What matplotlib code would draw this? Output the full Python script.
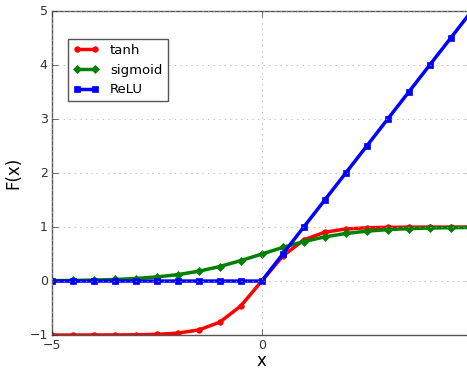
import matplotlib.pyplot as plt

x = [-5, -4.5, -4, -3.5, -3, -2.5, -2, -1.5, -1, -0.5, 0,
     0.5, 1, 1.5, 2, 2.5, 3, 3.5, 4, 4.5, 5]
tanh_y = [-1.0, -1.0, -0.999, -0.998, -0.995, -0.987, -0.964, -0.905, -0.762, -0.462, 0.0,
          0.462, 0.762, 0.905, 0.964, 0.987, 0.995, 0.998, 0.999, 1.0, 1.0]
sigmoid_y = [0.007, 0.011, 0.018, 0.029, 0.047, 0.076, 0.119, 0.182, 0.269, 0.378, 0.5,
             0.622, 0.731, 0.818, 0.881, 0.924, 0.953, 0.971, 0.982, 0.989, 0.993]
relu_y = [0, 0, 0, 0, 0, 0, 0, 0, 0, 0, 0,
          0.5, 1, 1.5, 2, 2.5, 3, 3.5, 4, 4.5, 5]

plt.style.use('classic')
fig = plt.figure(figsize=(4.67, 3.69), dpi=100, facecolor='white')
ax = fig.add_axes([0.111, 0.092, 0.899, 0.878])

ax.plot(x, tanh_y, color='red', lw=2.5, marker='o', ms=4, mec='red', label='tanh')
ax.plot(x, sigmoid_y, color='green', lw=2.5, marker='D', ms=4, mec='green', label='sigmoid')
ax.plot(x, relu_y, color='blue', lw=2.5, marker='s', ms=4, mec='blue', label='ReLU')

ax.set_xlim(-5, 5)
ax.set_ylim(-1, 5)
ax.set_xticks([-5, 0])
ax.set_yticks([-1, 0, 1, 2, 3, 4, 5])
ax.tick_params(labelsize=9, colors='#333333', pad=3)
ax.grid(True, linestyle=':', color='#aaaaaa')
for s in ax.spines.values():
    s.set_color('#555555')
ax.set_xlabel('x', fontsize=12, labelpad=0)
ax.set_ylabel('F(x)', fontsize=12)
ax.legend(loc='upper left', bbox_to_anchor=(0.022, 0.935), fontsize=9.5,
          numpoints=2, handlelength=2, framealpha=1, edgecolor='#555555')

fig.savefig('out.png', dpi=100, facecolor='white')
